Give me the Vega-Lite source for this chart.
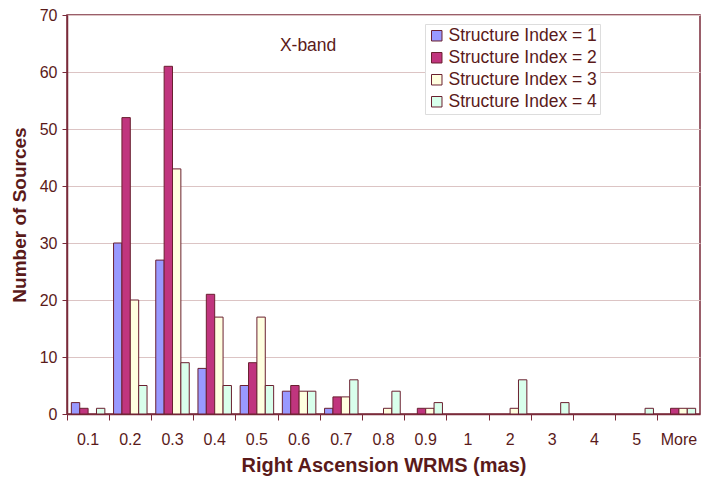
{
  "$schema": "https://vega.github.io/schema/vega-lite/v6.json",
  "width": 633,
  "height": 399,
  "autosize": {"type": "none"},
  "padding": {"left": 67, "top": 15, "right": 2, "bottom": 65},
  "background": "white",
  "config": {
    "view": {"stroke": "#7a2a3a", "strokeWidth": 1.5},
    "font": "Liberation Sans",
    "axis": {"labelColor": "#5a1a1a", "titleColor": "#5a1a1a", "domainColor": "#7a2a3a", "tickColor": "#7a2a3a"}
  },
  "data": {
    "values": [
      {"bin": "0.1", "s": "Structure Index = 1", "n": 2},
      {"bin": "0.1", "s": "Structure Index = 2", "n": 1},
      {"bin": "0.1", "s": "Structure Index = 3", "n": 0},
      {"bin": "0.1", "s": "Structure Index = 4", "n": 1},
      {"bin": "0.2", "s": "Structure Index = 1", "n": 30},
      {"bin": "0.2", "s": "Structure Index = 2", "n": 52},
      {"bin": "0.2", "s": "Structure Index = 3", "n": 20},
      {"bin": "0.2", "s": "Structure Index = 4", "n": 5},
      {"bin": "0.3", "s": "Structure Index = 1", "n": 27},
      {"bin": "0.3", "s": "Structure Index = 2", "n": 61},
      {"bin": "0.3", "s": "Structure Index = 3", "n": 43},
      {"bin": "0.3", "s": "Structure Index = 4", "n": 9},
      {"bin": "0.4", "s": "Structure Index = 1", "n": 8},
      {"bin": "0.4", "s": "Structure Index = 2", "n": 21},
      {"bin": "0.4", "s": "Structure Index = 3", "n": 17},
      {"bin": "0.4", "s": "Structure Index = 4", "n": 5},
      {"bin": "0.5", "s": "Structure Index = 1", "n": 5},
      {"bin": "0.5", "s": "Structure Index = 2", "n": 9},
      {"bin": "0.5", "s": "Structure Index = 3", "n": 17},
      {"bin": "0.5", "s": "Structure Index = 4", "n": 5},
      {"bin": "0.6", "s": "Structure Index = 1", "n": 4},
      {"bin": "0.6", "s": "Structure Index = 2", "n": 5},
      {"bin": "0.6", "s": "Structure Index = 3", "n": 4},
      {"bin": "0.6", "s": "Structure Index = 4", "n": 4},
      {"bin": "0.7", "s": "Structure Index = 1", "n": 1},
      {"bin": "0.7", "s": "Structure Index = 2", "n": 3},
      {"bin": "0.7", "s": "Structure Index = 3", "n": 3},
      {"bin": "0.7", "s": "Structure Index = 4", "n": 6},
      {"bin": "0.8", "s": "Structure Index = 1", "n": 0},
      {"bin": "0.8", "s": "Structure Index = 2", "n": 0},
      {"bin": "0.8", "s": "Structure Index = 3", "n": 1},
      {"bin": "0.8", "s": "Structure Index = 4", "n": 4},
      {"bin": "0.9", "s": "Structure Index = 1", "n": 0},
      {"bin": "0.9", "s": "Structure Index = 2", "n": 1},
      {"bin": "0.9", "s": "Structure Index = 3", "n": 1},
      {"bin": "0.9", "s": "Structure Index = 4", "n": 2},
      {"bin": "1", "s": "Structure Index = 1", "n": 0},
      {"bin": "1", "s": "Structure Index = 2", "n": 0},
      {"bin": "1", "s": "Structure Index = 3", "n": 0},
      {"bin": "1", "s": "Structure Index = 4", "n": 0},
      {"bin": "2", "s": "Structure Index = 1", "n": 0},
      {"bin": "2", "s": "Structure Index = 2", "n": 0},
      {"bin": "2", "s": "Structure Index = 3", "n": 1},
      {"bin": "2", "s": "Structure Index = 4", "n": 6},
      {"bin": "3", "s": "Structure Index = 1", "n": 0},
      {"bin": "3", "s": "Structure Index = 2", "n": 0},
      {"bin": "3", "s": "Structure Index = 3", "n": 0},
      {"bin": "3", "s": "Structure Index = 4", "n": 2},
      {"bin": "4", "s": "Structure Index = 1", "n": 0},
      {"bin": "4", "s": "Structure Index = 2", "n": 0},
      {"bin": "4", "s": "Structure Index = 3", "n": 0},
      {"bin": "4", "s": "Structure Index = 4", "n": 0},
      {"bin": "5", "s": "Structure Index = 1", "n": 0},
      {"bin": "5", "s": "Structure Index = 2", "n": 0},
      {"bin": "5", "s": "Structure Index = 3", "n": 0},
      {"bin": "5", "s": "Structure Index = 4", "n": 1},
      {"bin": "More", "s": "Structure Index = 1", "n": 0},
      {"bin": "More", "s": "Structure Index = 2", "n": 1},
      {"bin": "More", "s": "Structure Index = 3", "n": 1},
      {"bin": "More", "s": "Structure Index = 4", "n": 1}
    ]
  },
  "layer": [
    {
      "mark": {"type": "bar", "stroke": "#6a2030", "strokeWidth": 1},
      "transform": [{"filter": "datum.n > 0"}],
      "encoding": {
        "x": {
          "field": "bin", "type": "nominal", "sort": null,
          "scale": {"domain": ["0.1","0.2","0.3","0.4","0.5","0.6","0.7","0.8","0.9","1","2","3","4","5","More"], "paddingInner": 0, "paddingOuter": 0},
          "axis": {"title": "Right Ascension WRMS (mas)", "titleFontSize": 20, "titleFontWeight": "bold", "titlePadding": 8, "labelAngle": 0, "labelFontSize": 16, "labelPadding": 11, "bandPosition": 0, "labelOverlap": false, "tickSize": 6, "domainWidth": 1.5}
        },
        "xOffset": {
          "field": "s", "type": "nominal",
          "scale": {"paddingInner": 0, "paddingOuter": 0.52}
        },
        "y": {
          "field": "n", "type": "quantitative",
          "scale": {"domain": [0, 70]},
          "axis": {"title": "Number of Sources", "titleFontSize": 19, "titleFontWeight": "bold", "titlePadding": 10, "labelFontSize": 16, "labelPadding": 5, "labelOverlap": false, "values": [0,10,20,30,40,50,60,70], "gridColor": "#dcc4c4", "gridWidth": 1.2, "tickSize": 5, "domainWidth": 1.5}
        },
        "color": {
          "field": "s", "type": "nominal",
          "scale": {"domain": ["Structure Index = 1","Structure Index = 2","Structure Index = 3","Structure Index = 4"], "range": ["#9999ff", "#c0357e", "#ffffe0", "#d9ffec"]},
          "legend": {"title": null, "orient": "none", "legendX": 358, "legendY": 9, "fillColor": "white", "strokeColor": "#dddddd", "padding": 3, "labelFontSize": 17.5, "labelColor": "#5a1a1a", "symbolType": "square", "symbolSize": 110, "symbolStrokeColor": "#6a2030", "symbolStrokeWidth": 1, "rowPadding": 3, "labelOffset": 3}
        }
      }
    },
    {
      "data": {"values": [{"label": "X-band"}]},
      "mark": {"type": "text", "fontSize": 17.5, "fill": "#5a1a1a", "dx": 9, "dy": 2},
      "encoding": {
        "x": {"datum": "0.6", "type": "nominal"},
        "y": {"datum": 65, "type": "quantitative"},
        "text": {"field": "label", "type": "nominal"}
      }
    }
  ]
}
